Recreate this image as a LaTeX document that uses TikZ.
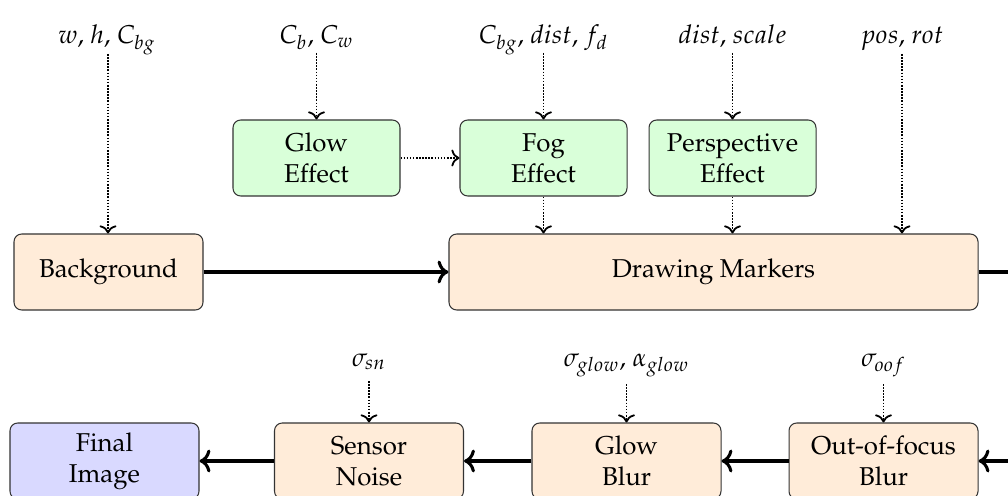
\documentclass[tikz,border=0pt]{standalone}
\usepackage[T1]{fontenc}
\usepackage{mathpazo}
\usetikzlibrary{arrows.meta}
\newdimen\pxu
\pxu=0.3876pt
\tikzset{
  box/.style={draw=black!80, thin, rounded corners=3pt, align=center,
    minimum height=76\pxu, inner sep=0pt},
  mainbox/.style={box, fill=orange!15, minimum width=189\pxu},
  effbox/.style={box, fill=green!15, minimum width=167\pxu},
  outbox/.style={box, fill=blue!15, minimum width=189\pxu},
  param/.style={anchor=base, inner sep=0pt},
  flow/.style={->, very thick},
  feed/.style={->, line width=0.7pt, dash pattern=on 0.6pt off 0.6pt},
}
\begin{document}
\begin{tikzpicture}[x=\pxu, y=-\pxu]
  \useasboundingbox (0,0) rectangle (1008,496);
  \clip (0,0) rectangle (1008,496);

  % upper row: main pipeline
  \node[mainbox] (bg) at (108.5,272) {Background};
  \node[mainbox, minimum width=529\pxu] (dm) at (713.5,272) {Drawing Markers};

  % effects feeding into the marker stage
  \node[effbox] (glow) at (316.5,158) {Glow\\Effect};
  \node[effbox] (fog) at (543.5,158) {Fog\\Effect};
  \node[effbox] (persp) at (732.5,158) {Perspective\\Effect};

  % lower row: post-processing
  \node[outbox] (final) at (104.5,461) {Final\\Image};
  \node[mainbox] (noise) at (369,461) {Sensor\\Noise};
  \node[mainbox] (gblur) at (626.5,461) {Glow\\Blur};
  \node[mainbox] (oof) at (883.5,461) {Out-of-focus\\Blur};

  % parameters
  \node[param] (pbg) at (107,44) {$w$, $h$, $C_{bg}$};
  \node[param] (pglow) at (316.5,44) {$C_b$, $C_w$};
  \node[param] (pfog) at (543.5,44) {$C_{bg}$, $dist$, $f_d$};
  \node[param] (ppersp) at (732.5,44) {$dist$, $scale$};
  \node[param] (pdm) at (902,44) {$pos$, $rot$};
  \node[param] (pnoise) at (369,366) {$\sigma_{sn}$};
  \node[param] (pgblur) at (626.5,366) {$\sigma_{glow}$, $\alpha_{glow}$};
  \node[param] (poof) at (883.5,366) {$\sigma_{oof}$};

  % helper points for the parameter feeds
  \coordinate (s1) at (108,54);
  \coordinate (s2) at (316.5,53);
  \coordinate (s3) at (543.5,53);
  \coordinate (s4) at (732.5,53);
  \coordinate (s5) at (902,54);
  \coordinate (s6) at (369,381);
  \coordinate (s7) at (626.5,384);
  \coordinate (s8) at (883.5,384);
  \coordinate (loop) at (1040,272);

  % parameter feeds
  \draw[feed] (s1) -- (s1 |- bg.north);
  \draw[feed] (s2) -- (glow.north);
  \draw[feed] (s3) -- (fog.north);
  \draw[feed] (s4) -- (persp.north);
  \draw[feed] (s5) -- (s5 |- dm.north);
  \draw[feed] (s6) -- (noise.north);
  \draw[feed] (s7) -- (gblur.north);
  \draw[feed] (s8) -- (oof.north);

  % effect links
  \draw[feed] (glow) -- (fog);
  \draw[feed] (fog.south) -- (fog.south |- dm.north);
  \draw[feed] (persp.south) -- (persp.south |- dm.north);

  % main flow
  \draw[flow] (bg) -- (dm);
  \draw[flow] (dm.east) -- (loop) |- (oof.east);
  \draw[flow] (oof) -- (gblur);
  \draw[flow] (gblur) -- (noise);
  \draw[flow] (noise) -- (final);
\end{tikzpicture}
\end{document}
